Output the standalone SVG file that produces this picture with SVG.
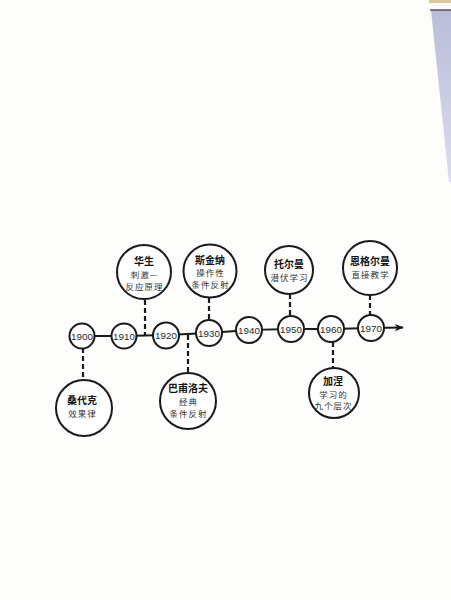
<svg xmlns="http://www.w3.org/2000/svg" width="451" height="600" viewBox="0 0 451 600">
<defs>
<style>
.yr{fill:#fff;stroke:#1a1a1a;stroke-width:2}
.bub{fill:#fff;stroke:#1a1a1a;stroke-width:2}
.yt{font-family:"Liberation Sans",Arial,sans-serif;font-size:9.8px;fill:#2a2a2a;text-anchor:middle}
.nm{font-family:"Noto Sans CJK SC","Noto Sans",sans-serif;font-size:10px;font-weight:bold;fill:#111;text-anchor:middle}
.ds{font-family:"Noto Sans CJK SC","Noto Sans",sans-serif;font-size:8.5px;fill:#333;text-anchor:middle;letter-spacing:1px}
.dash{stroke:#1a1a1a;stroke-width:2.2;stroke-dasharray:5 3;fill:none}
.ax{stroke:#1a1a1a;stroke-width:1.8;fill:none}
</style>
<marker id="arr" viewBox="0 0 10 10" refX="9" refY="5" markerWidth="10" markerHeight="9" orient="auto" markerUnits="userSpaceOnUse">
<path d="M0,1 L10,5 L0,9 L2.5,5 Z" fill="#1a1a1a"/>
</marker>
<linearGradient id="strip" x1="0" y1="0" x2="0" y2="1">
<stop offset="0" stop-color="#b9bdd8"/>
<stop offset="1" stop-color="#dcdcec"/>
</linearGradient>
</defs>
<rect width="451" height="600" fill="#fdfdfb"/>
<polygon points="431,10 451,10 451,182 449,182" fill="url(#strip)"/>
<line x1="430" y1="10" x2="451" y2="10" stroke="#555" stroke-width="1.5"/>
<rect x="429" y="0" width="22" height="3" fill="#d8cc9a"/>

<g id="connectors">
<polyline class="ax" points="82,336 124,336 166,335 209,333 249,330 291,329 331,329 371,328 403,327.5" marker-end="url(#arr)"/>
<line class="dash" x1="145" y1="300" x2="145" y2="335"/>
<line class="dash" x1="209" y1="298" x2="209" y2="320"/>
<line class="dash" x1="290" y1="294" x2="290" y2="316"/>
<line class="dash" x1="370" y1="295" x2="370" y2="315"/>
<line class="dash" x1="83" y1="348" x2="83" y2="380"/>
<line class="dash" x1="188" y1="335" x2="188" y2="372"/>
<line class="dash" x1="333" y1="342" x2="333" y2="368"/>
</g>

<g id="y1900"><circle class="yr" cx="82" cy="336" r="12.5"/><text class="yt" x="82" y="339.6">1900</text></g>
<g id="y1910"><circle class="yr" cx="124" cy="336" r="12.5"/><text class="yt" x="124" y="339.6">1910</text></g>
<g id="y1920"><circle class="yr" cx="166" cy="335.5" r="13"/><text class="yt" x="166" y="339.1">1920</text></g>
<g id="y1930"><circle class="yr" cx="209" cy="333" r="13"/><text class="yt" x="209" y="336.6">1930</text></g>
<g id="y1940"><circle class="yr" cx="249" cy="330" r="13"/><text class="yt" x="249" y="333.6">1940</text></g>
<g id="y1950"><circle class="yr" cx="291" cy="329" r="13"/><text class="yt" x="291" y="332.6">1950</text></g>
<g id="y1960"><circle class="yr" cx="331" cy="329" r="13"/><text class="yt" x="331" y="332.6">1960</text></g>
<g id="y1970"><circle class="yr" cx="371" cy="328" r="13"/><text class="yt" x="371" y="331.6">1970</text></g>

<g id="watson"><circle class="bub" cx="144" cy="272" r="27"/>
<text class="nm" x="144" y="264.5">华生</text>
<text class="ds" x="144.5" y="277.5">刺激—</text>
<text class="ds" x="144.5" y="290">反应原理</text></g>

<g id="skinner"><circle class="bub" cx="210" cy="271" r="26.5"/>
<text class="nm" x="210" y="263.5">斯金纳</text>
<text class="ds" x="210.5" y="276">操作性</text>
<text class="ds" x="210.5" y="288">条件反射</text></g>

<g id="tolman"><circle class="bub" cx="289" cy="270" r="24"/>
<text class="nm" x="289" y="267.5">托尔曼</text>
<text class="ds" x="289.5" y="281">潜伏学习</text></g>

<g id="engelmann"><circle class="bub" cx="370" cy="268" r="27"/>
<text class="nm" x="370" y="264.5">恩格尔曼</text>
<text class="ds" x="370.5" y="278">直接教学</text></g>

<g id="thorndike"><circle class="bub" cx="84" cy="408" r="28"/>
<text class="nm" x="82" y="403.5">桑代克</text>
<text class="ds" x="82.5" y="417">效果律</text></g>

<g id="pavlov"><circle class="bub" cx="188" cy="401" r="28"/>
<text class="nm" x="188" y="391.5">巴甫洛夫</text>
<text class="ds" x="188.5" y="404.5">经典</text>
<text class="ds" x="188.5" y="417">条件反射</text></g>

<g id="gagne"><circle class="bub" cx="334" cy="393" r="25"/>
<text class="nm" x="333" y="384.5">加涅</text>
<text class="ds" x="333.5" y="397.5">学习的</text>
<text class="ds" x="333.5" y="409">九个层次</text></g>
</svg>
